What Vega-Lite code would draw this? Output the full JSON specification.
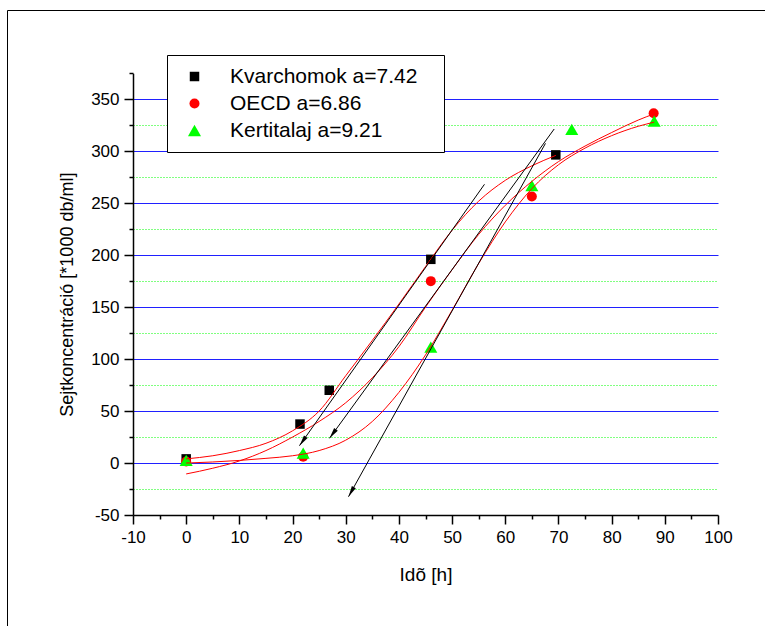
{
  "$schema": "https://vega.github.io/schema/vega-lite/v6.json",
  "width": 762,
  "height": 620,
  "autosize": {"type": "none"},
  "padding": {"left": 7, "top": 10, "right": -4, "bottom": -4},
  "background": "white",
  "config": {
    "view": {"stroke": "#000000", "strokeWidth": 1},
    "font": "Liberation Sans"
  },
  "datasets": {
    "measured": [
      {"series": "Kvarchomok a=7.42", "x": 0, "y": 4},
      {"series": "Kvarchomok a=7.42", "x": 21.4, "y": 37.5},
      {"series": "Kvarchomok a=7.42", "x": 26.9, "y": 70},
      {"series": "Kvarchomok a=7.42", "x": 46, "y": 196},
      {"series": "Kvarchomok a=7.42", "x": 69.5, "y": 296.5},
      {"series": "OECD a=6.86", "x": 0, "y": 1.5},
      {"series": "OECD a=6.86", "x": 22, "y": 6},
      {"series": "OECD a=6.86", "x": 46, "y": 175},
      {"series": "OECD a=6.86", "x": 65, "y": 256.5},
      {"series": "OECD a=6.86", "x": 87.9, "y": 336.5},
      {"series": "Kertitalaj a=9.21", "x": 0, "y": 2.5},
      {"series": "Kertitalaj a=9.21", "x": 22, "y": 9.5},
      {"series": "Kertitalaj a=9.21", "x": 46, "y": 111.5},
      {"series": "Kertitalaj a=9.21", "x": 65, "y": 267},
      {"series": "Kertitalaj a=9.21", "x": 72.5, "y": 321},
      {"series": "Kertitalaj a=9.21", "x": 88, "y": 329}
    ],
    "fits": [
      {"fit": "Kvarchomok", "x": 0, "y": 4},
      {"fit": "Kvarchomok", "x": 5, "y": 7},
      {"fit": "Kvarchomok", "x": 10, "y": 12},
      {"fit": "Kvarchomok", "x": 15, "y": 19},
      {"fit": "Kvarchomok", "x": 20, "y": 31},
      {"fit": "Kvarchomok", "x": 25, "y": 50},
      {"fit": "Kvarchomok", "x": 30, "y": 84},
      {"fit": "Kvarchomok", "x": 35, "y": 118},
      {"fit": "Kvarchomok", "x": 40, "y": 153},
      {"fit": "Kvarchomok", "x": 45, "y": 189},
      {"fit": "Kvarchomok", "x": 50, "y": 224},
      {"fit": "Kvarchomok", "x": 55, "y": 252},
      {"fit": "Kvarchomok", "x": 60, "y": 272},
      {"fit": "Kvarchomok", "x": 65, "y": 286},
      {"fit": "Kvarchomok", "x": 69.5, "y": 296},
      {"fit": "OECD", "x": 0, "y": -10.5},
      {"fit": "OECD", "x": 5, "y": -5},
      {"fit": "OECD", "x": 10, "y": 2},
      {"fit": "OECD", "x": 15, "y": 12},
      {"fit": "OECD", "x": 20, "y": 25},
      {"fit": "OECD", "x": 25, "y": 40},
      {"fit": "OECD", "x": 30, "y": 58},
      {"fit": "OECD", "x": 35, "y": 82},
      {"fit": "OECD", "x": 40, "y": 112},
      {"fit": "OECD", "x": 45, "y": 150},
      {"fit": "OECD", "x": 50, "y": 186},
      {"fit": "OECD", "x": 55, "y": 220},
      {"fit": "OECD", "x": 60, "y": 248},
      {"fit": "OECD", "x": 65, "y": 271},
      {"fit": "OECD", "x": 70, "y": 290},
      {"fit": "OECD", "x": 75, "y": 305},
      {"fit": "OECD", "x": 80, "y": 318},
      {"fit": "OECD", "x": 85, "y": 330},
      {"fit": "OECD", "x": 88, "y": 336},
      {"fit": "Kertitalaj", "x": 0, "y": 0},
      {"fit": "Kertitalaj", "x": 5, "y": 1},
      {"fit": "Kertitalaj", "x": 10, "y": 2.5},
      {"fit": "Kertitalaj", "x": 15, "y": 4.5},
      {"fit": "Kertitalaj", "x": 20, "y": 7},
      {"fit": "Kertitalaj", "x": 25, "y": 12},
      {"fit": "Kertitalaj", "x": 30, "y": 22},
      {"fit": "Kertitalaj", "x": 35, "y": 40},
      {"fit": "Kertitalaj", "x": 40, "y": 68},
      {"fit": "Kertitalaj", "x": 45, "y": 104},
      {"fit": "Kertitalaj", "x": 50, "y": 147},
      {"fit": "Kertitalaj", "x": 55, "y": 192},
      {"fit": "Kertitalaj", "x": 60, "y": 232},
      {"fit": "Kertitalaj", "x": 65, "y": 264},
      {"fit": "Kertitalaj", "x": 70, "y": 287},
      {"fit": "Kertitalaj", "x": 75, "y": 303},
      {"fit": "Kertitalaj", "x": 80, "y": 315},
      {"fit": "Kertitalaj", "x": 85, "y": 324},
      {"fit": "Kertitalaj", "x": 88, "y": 328}
    ],
    "tangents": [
      {"tangent": "Kvarchomok", "end": "tail", "x": 56.09, "y": 268.2},
      {"tangent": "Kvarchomok", "end": "tip", "x": 21.3, "y": 16.7},
      {"tangent": "OECD", "end": "tail", "x": 69.2, "y": 321.4},
      {"tangent": "OECD", "end": "tip", "x": 26.95, "y": 23.8},
      {"tangent": "Kertitalaj", "end": "tail", "x": 67.56, "y": 307.6},
      {"tangent": "Kertitalaj", "end": "tip", "x": 30.52, "y": -32.4}
    ]
  },
  "encoding": {
    "x": {
      "field": "x",
      "type": "quantitative",
      "scale": {"domain": [-10, 100], "range": [126, 711], "nice": false, "zero": false},
      "axis": {
        "orient": "bottom",
        "offset": -115,
        "values": [-10, -5, 0, 5, 10, 15, 20, 25, 30, 35, 40, 45, 50, 55, 60, 65, 70, 75, 80, 85, 90, 95, 100],
        "labelExpr": "datum.value % 10 === 0 ? '' + datum.value : ''",
        "labelOverlap": false,
        "labelBound": false,
        "labelFlush": false,
        "labelFont": "Liberation Sans",
        "labelFontSize": 17,
        "labelColor": "#000000",
        "labelPadding": 5,
        "tickSize": {"condition": {"test": "datum.value % 10 === 0", "value": 9}, "value": 4},
        "tickColor": "#000000",
        "tickWidth": 1.5,
        "domainColor": "#000000",
        "domainWidth": 1.5,
        "grid": false,
        "title": "Idõ [h]",
        "titleFont": "Liberation Sans",
        "titleFontSize": 19,
        "titleFontWeight": "normal",
        "titleColor": "#000000",
        "titlePadding": 20
      }
    }
  },
  "resolve": {"axis": {"y": "independent"}},
  "layer": [
    {
      "data": {"name": "measured"},
      "mark": {"type": "point", "filled": true, "opacity": 1},
      "encoding": {
        "y": {
          "field": "y",
          "type": "quantitative",
          "scale": {"domain": [-50, 375], "range": [505, 63.3], "nice": false, "zero": false},
          "axis": {
            "orient": "left",
            "offset": -126,
            "values": [-50, 0, 50, 100, 150, 200, 250, 300, 350],
            "labelExpr": "'' + datum.value",
            "labelOverlap": false,
            "labelBound": false,
            "labelFlush": false,
            "labelFont": "Liberation Sans",
            "labelFontSize": 17,
            "labelColor": "#000000",
            "labelPadding": 5,
            "tickSize": 9,
            "tickColor": "#000000",
            "tickWidth": 1.5,
            "domainColor": "#000000",
            "domainWidth": 1.5,
            "grid": true,
            "gridColor": "#2020ff",
            "gridWidth": 1,
            "gridOpacity": {"condition": {"test": "datum.value === -50", "value": 0}, "value": 1},
            "title": "Sejtkoncentráció [*1000 db/ml]",
            "titleFont": "Liberation Sans",
            "titleFontSize": 18,
            "titleFontWeight": "normal",
            "titleColor": "#000000",
            "titlePadding": 14
          }
        },
        "color": {
          "field": "series",
          "type": "nominal",
          "scale": {"domain": ["Kvarchomok a=7.42", "OECD a=6.86", "Kertitalaj a=9.21"], "range": ["#000000", "#ff0000", "#00ff00"]},
          "legend": {
            "orient": "none",
            "legendX": 160,
            "legendY": 45,
            "title": null,
            "fillColor": "#ffffff",
            "strokeColor": "#000000",
            "padding": 11,
            "rowPadding": 5,
            "symbolOffset": 6,
            "labelOffset": 25,
            "labelFont": "Liberation Sans",
            "labelFontSize": 21,
            "labelColor": "#000000",
            "labelLimit": 400,
            "labelExpr": "datum.label + '\u2800'",
            "symbolStrokeWidth": 0,
            "symbolOpacity": 1
          }
        },
        "shape": {
          "field": "series",
          "type": "nominal",
          "scale": {"domain": ["Kvarchomok a=7.42", "OECD a=6.86", "Kertitalaj a=9.21"], "range": ["square", "circle", "triangle-up"]}
        },
        "size": {
          "field": "series",
          "type": "nominal",
          "scale": {"type": "ordinal", "domain": ["Kvarchomok a=7.42", "OECD a=6.86", "Kertitalaj a=9.21"], "range": [90, 100, 170]}
        }
      }
    },
    {
      "data": {"name": "fits"},
      "mark": {"type": "line", "color": "#ff0000", "strokeWidth": 1, "interpolate": "monotone"},
      "encoding": {
        "y": {
          "field": "y",
          "type": "quantitative",
          "axis": {
            "orient": "left",
            "offset": -126,
            "values": [-25, 25, 75, 125, 175, 225, 275, 325, 375],
            "labels": false,
            "domain": false,
            "title": null,
            "tickSize": 4,
            "tickColor": "#000000",
            "tickWidth": 1.5,
            "grid": true,
            "gridColor": "#00ff00",
            "gridDash": [1, 2],
            "gridWidth": 1,
            "gridOpacity": {"condition": {"test": "datum.value === 375", "value": 0}, "value": 1}
          }
        },
        "detail": {"field": "fit", "type": "nominal"}
      }
    },
    {
      "data": {"name": "tangents"},
      "mark": {"type": "line", "color": "#000000", "strokeWidth": 1},
      "encoding": {
        "y": {"field": "y", "type": "quantitative", "axis": null},
        "detail": {"field": "tangent", "type": "nominal"}
      }
    },
    {
      "data": {"name": "tangents"},
      "transform": [{"filter": "datum.end === 'tip' && datum.tangent === 'Kvarchomok'"}],
      "mark": {"type": "point", "shape": "M0,0L0.45,2.2L-0.45,2.2Z", "filled": true, "color": "#000000", "opacity": 1, "size": 100, "angle": 215.3},
      "encoding": {"y": {"field": "y", "type": "quantitative", "axis": null}}
    },
    {
      "data": {"name": "tangents"},
      "transform": [{"filter": "datum.end === 'tip' && datum.tangent === 'OECD'"}],
      "mark": {"type": "point", "shape": "M0,0L0.45,2.2L-0.45,2.2Z", "filled": true, "color": "#000000", "opacity": 1, "size": 100, "angle": 216},
      "encoding": {"y": {"field": "y", "type": "quantitative", "axis": null}}
    },
    {
      "data": {"name": "tangents"},
      "transform": [{"filter": "datum.end === 'tip' && datum.tangent === 'Kertitalaj'"}],
      "mark": {"type": "point", "shape": "M0,0L0.45,2.2L-0.45,2.2Z", "filled": true, "color": "#000000", "opacity": 1, "size": 100, "angle": 209.1},
      "encoding": {"y": {"field": "y", "type": "quantitative", "axis": null}}
    }
  ]
}
